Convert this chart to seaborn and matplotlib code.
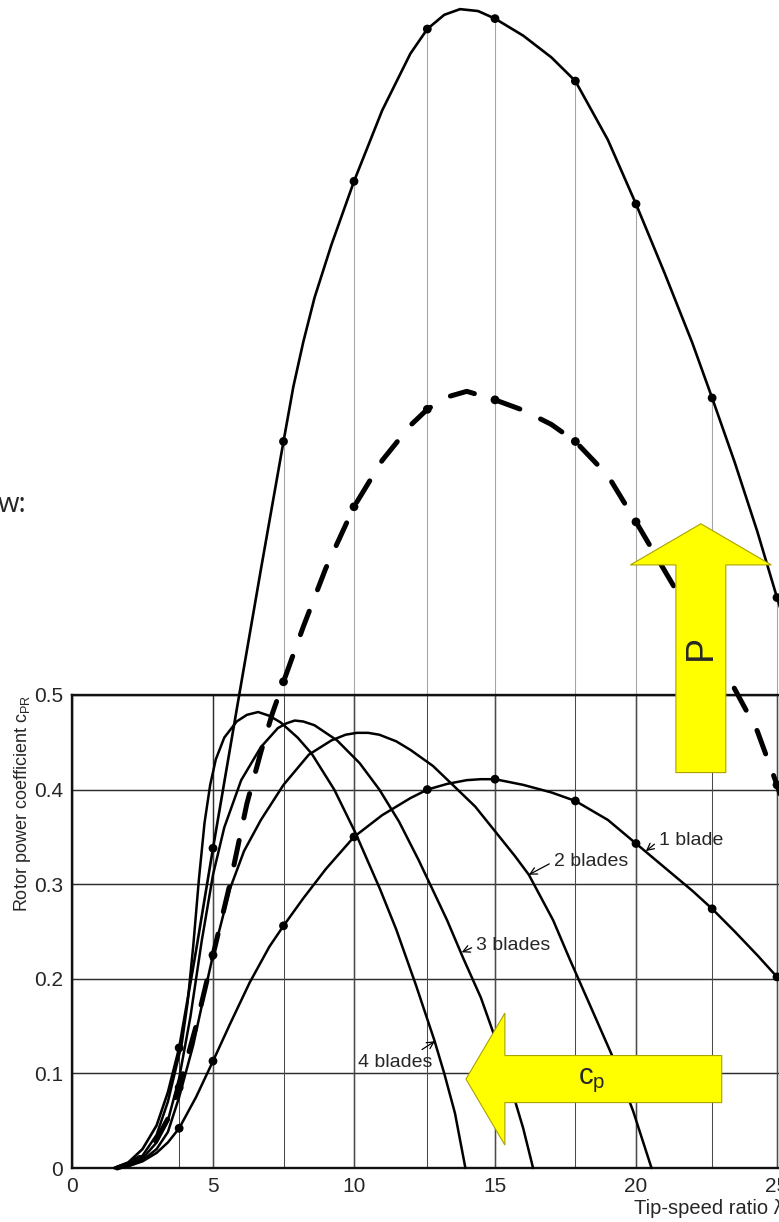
import matplotlib
matplotlib.use("Agg")
import matplotlib.pyplot as plt
from matplotlib import transforms
from matplotlib.font_manager import FontProperties
from matplotlib.patches import FancyArrow
import seaborn as sns

# ---- rotor power coefficient c_PR versus tip-speed ratio lambda ----
lam_1 = [1.5, 2.0, 2.5, 3.0, 3.4, 3.8, 4.4, 5.0, 5.6, 6.3, 7.0, 7.5, 8.2, 9.0, 10.0, 11.0,
         12.0, 12.6, 13.3, 14.0, 14.5, 15.0, 16.0, 17.0, 17.85, 19.0, 20.0, 21.0, 22.0,
         22.7, 23.5, 24.3, 25.0, 25.6]
cp_1 = [0.0, 0.002, 0.007, 0.016, 0.027, 0.042, 0.075, 0.113, 0.152, 0.196, 0.234, 0.256,
        0.285, 0.316, 0.350, 0.373, 0.391, 0.400, 0.406, 0.410, 0.411, 0.411, 0.405, 0.397,
        0.388, 0.368, 0.343, 0.318, 0.293, 0.274, 0.250, 0.225, 0.202, 0.182]

lam_2 = [1.7, 2.0, 2.5, 3.0, 3.4, 3.8, 4.3, 4.7, 5.0, 5.6, 6.1, 6.7, 7.5, 8.4, 9.2, 9.7,
         10.1, 10.5, 10.9, 11.5, 12.0, 12.8, 13.5, 14.3, 15.0, 15.7, 16.2, 17.06, 17.66,
         18.4, 19.18, 19.9, 20.55]
cp_2 = [0.0, 0.002, 0.008, 0.02, 0.038, 0.075, 0.13, 0.185, 0.225, 0.295, 0.335, 0.368,
        0.405, 0.437, 0.452, 0.458, 0.46, 0.46, 0.458, 0.451, 0.442, 0.425, 0.405, 0.382,
        0.356, 0.33, 0.31, 0.262, 0.22, 0.17, 0.117, 0.06, 0.0]

lam_3 = [1.6, 2.0, 2.5, 3.0, 3.4, 3.8, 4.2, 4.6, 5.0, 5.4, 6.0, 6.7, 7.3, 7.6, 7.9, 8.2,
         8.6, 9.4, 10.2, 10.9, 11.6, 12.3, 13.3, 13.87, 14.5, 15.0, 15.5, 16.0, 16.35]
cp_3 = [0.0, 0.003, 0.01, 0.027, 0.05, 0.095, 0.16, 0.24, 0.31, 0.36, 0.41, 0.445, 0.465,
        0.47, 0.473, 0.472, 0.468, 0.452, 0.428, 0.40, 0.366, 0.325, 0.262, 0.222, 0.18,
        0.138, 0.092, 0.042, 0.0]

lam_4 = [1.5, 2.0, 2.5, 3.0, 3.4, 3.89, 4.1, 4.3, 4.5, 4.7, 4.9, 5.1, 5.4, 5.84, 6.2, 6.6,
         7.0, 7.4, 8.0, 8.5, 9.3, 10.04, 10.92, 11.5, 12.2, 12.85, 13.2, 13.58, 13.95]
cp_4 = [0.0, 0.004, 0.013, 0.035, 0.07, 0.131, 0.175, 0.235, 0.305, 0.365, 0.405, 0.432,
        0.455, 0.472, 0.479, 0.482, 0.478, 0.471, 0.455, 0.438, 0.40, 0.355, 0.295, 0.252,
        0.193, 0.135, 0.10, 0.058, 0.0]

# ---- power curves P (solid and dashed), plotted on the same lambda scale ----
lam_p_solid = [1.5, 2.0, 2.5, 3.0, 3.4, 3.8, 4.4, 5.0, 5.9, 6.7, 7.5, 7.85, 8.2, 8.6, 9.2,
               10.0, 11.0, 12.0, 12.6, 13.2, 13.76, 14.4, 15.0, 16.0, 17.0, 17.85, 19.0,
               20.0, 21.0, 22.0, 22.7, 23.5, 24.3, 25.0, 25.6]
p_solid = [0.0, 0.006, 0.02, 0.045, 0.08, 0.127, 0.23, 0.338, 0.495, 0.633, 0.768, 0.826,
           0.873, 0.92, 0.976, 1.043, 1.118, 1.178, 1.204, 1.219, 1.225, 1.223, 1.215,
           1.197, 1.174, 1.149, 1.087, 1.019, 0.947, 0.872, 0.814, 0.746, 0.673, 0.603,
           0.545]

lam_p_dash = [1.6, 2.0, 2.5, 3.0, 3.4, 3.8, 4.4, 5.0, 5.6, 6.2, 6.7, 7.1, 7.5, 8.2, 9.0,
              10.0, 11.0, 12.0, 12.6, 13.3, 14.0, 15.0, 16.0, 17.0, 17.85, 19.0, 20.0,
              21.28, 22.2, 22.7, 23.2, 24.3, 25.0, 25.5]
p_dash = [0.0, 0.004, 0.013, 0.03, 0.052, 0.085, 0.15, 0.225, 0.300, 0.385, 0.44, 0.48,
          0.514, 0.572, 0.634, 0.699, 0.748, 0.785, 0.802, 0.815, 0.821, 0.812, 0.801,
          0.786, 0.768, 0.732, 0.683, 0.618, 0.572, 0.548, 0.523, 0.462, 0.405, 0.36]

# marked stations (dots) along the curves
lam_marks = [3.8, 5.0, 7.5, 10.0, 12.6, 15.0, 17.85, 20.0, 22.7, 25.0]
cp1_marks = [0.042, 0.113, 0.256, 0.350, 0.400, 0.411, 0.388, 0.343, 0.274, 0.202]
p_solid_marks = [0.127, 0.338, 0.768, 1.043, 1.204, 1.215, 1.149, 1.019, 0.814, 0.603]
p_dash_marks = [0.085, 0.225, 0.514, 0.699, 0.802, 0.812, 0.768, 0.683, 0.548, 0.405]

x_ticks = [0, 5, 10, 15, 20, 25]
x_tick_labels = ["0", "5", "10", "15", "20", "25"]
y_ticks = [0.0, 0.1, 0.2, 0.3, 0.4, 0.5]
y_tick_labels = ["0", "0.1", "0.2", "0.3", "0.4", "0.5"]

curve_labels = ["1 blade", "2 blades", "3 blades", "4 blades"]

# ---------------------------------------------------------------------------
sns.set_style("white")
plt.rcParams["font.family"] = ["Liberation Sans", "DejaVu Sans"]

W, H = 779, 1222
fig = plt.figure(figsize=(W / 100, H / 100), dpi=100)
ax = fig.add_axes([72 / W, 54 / H, 761.4 / W, 473 / H])
ax.set_xlim(0, 27)
ax.set_ylim(0, 0.5)

tick_font = FontProperties(family=["Liberation Sans", "DejaVu Sans"], size=15)
label_font = FontProperties(family=["Liberation Sans", "DejaVu Sans"], size=14)
xtitle_font = FontProperties(family=["Liberation Sans", "DejaVu Sans"], size=14.5)
ytitle_font = FontProperties(family=["Liberation Sans", "DejaVu Sans"], size=13)

# grid and frame
ax.set_xticks(x_ticks)
ax.set_xticklabels(x_tick_labels)
ax.set_yticks(y_ticks)
ax.set_yticklabels(y_tick_labels)
ax.grid(True, color="#2e2e2e", lw=1.05)
ax.set_axisbelow(True)
ax.tick_params(length=0, pad=6.5)
for lab in ax.get_xticklabels() + ax.get_yticklabels():
    lab.set_fontproperties(tick_font)
for side in ["left", "bottom", "top"]:
    ax.spines[side].set_linewidth(1.7)
    ax.spines[side].set_color("#111111")
ax.spines["right"].set_visible(False)

# station lines from the axis up to the solid power curve
for lam, top in zip(lam_marks, p_solid_marks):
    ax.plot([lam, lam], [0, min(top, 0.5)], color="#4a4a4a", lw=0.75, zorder=1)
    if top > 0.5:
        ax.plot([lam, lam], [0.5, top], color="#a6a6a6", lw=0.8, zorder=1, clip_on=False)

# power coefficient curves
for lam, cp in [(lam_1, cp_1), (lam_2, cp_2), (lam_3, cp_3), (lam_4, cp_4)]:
    sns.lineplot(x=lam, y=cp, ax=ax, color="black", lw=1.8, estimator=None,
                 zorder=3, clip_on=False)

# power curves
sns.lineplot(x=lam_p_solid, y=p_solid, ax=ax, color="black", lw=1.9, estimator=None,
             zorder=3, clip_on=False)
sns.lineplot(x=lam_p_dash, y=p_dash, ax=ax, color="black", lw=3.6, estimator=None,
             zorder=3, clip_on=False)
dash_line = ax.lines[-1]
dash_line.set_dashes([5.0, 4.6])
dash_line.set_dash_capstyle("round")

# dots at the stations
for vals in [cp1_marks, p_solid_marks, p_dash_marks]:
    sns.scatterplot(x=lam_marks, y=vals, ax=ax, color="black", s=40, edgecolor="none",
                    zorder=4, clip_on=False, legend=False)

ax.set_xlim(0, 27)
ax.set_ylim(0, 0.5)
ax.set_xlabel("")
ax.set_ylabel("")

# curve labels with leader arrows
arrow_kw = dict(arrowstyle="->,head_length=0.35,head_width=0.18", lw=0.9, color="black",
                shrinkA=1, shrinkB=0)
label_specs = [
    (curve_labels[0], (20.35, 0.335), (21.95, 0.346), (0.0, 0.5)),
    (curve_labels[1], (16.2, 0.310), (18.4, 0.324), (0.0, 0.5)),
    (curve_labels[2], (13.82, 0.228), (15.65, 0.235), (0.0, 0.5)),
    (curve_labels[3], (12.87, 0.134), (11.45, 0.112), (0.78, 1.0)),
]
for text, xy, xytext, rel in label_specs:
    ax.annotate(text, xy=xy, xytext=xytext, ha="center", va="center",
                fontproperties=label_font, zorder=5,
                arrowprops=dict(arrow_kw, relpos=rel))

# yellow highlight arrows
yellow = "#ffff00"
edge = "#a9a200"
p_arrow = FancyArrow(22.3, 0.418, 0, 0.263, width=1.77, head_width=5.0, head_length=0.0435,
                     length_includes_head=True, fc=yellow, ec=edge, lw=0.8,
                     zorder=6, clip_on=False)
ax.add_patch(p_arrow)
cp_arrow = FancyArrow(23.04, 0.094, -9.07, 0, width=0.0497, head_width=0.1395,
                      head_length=1.38, length_includes_head=True, fc=yellow, ec=edge,
                      lw=0.8, zorder=6, clip_on=False)
ax.add_patch(cp_arrow)

ax.text(22.3, 0.55, "P", rotation=90, ha="center", va="center", fontsize=27,
        family=["Liberation Sans", "DejaVu Sans"], zorder=7, clip_on=False)
ax.text(18.43, 0.092, r"c$_{\mathregular{p}}$", ha="center", va="center", fontsize=21,
        family=["Liberation Sans", "DejaVu Sans"], zorder=7)

# axis titles
ylab_tf = transforms.blended_transform_factory(fig.transFigure, ax.transData)
ax.text(23 / W, 0.5, r"Rotor power coefficient c$_{\mathregular{PR}}$", rotation=90,
        ha="center", va="top", fontproperties=ytitle_font, transform=ylab_tf)
fig.text(634 / W, (H - 1208) / H, "Tip-speed ratio λ", ha="left", va="center",
         fontproperties=xtitle_font)

# fragment of slide text at the left edge
fig.text(-2 / W, (H - 512) / H, "w:", ha="left", va="baseline", fontsize=20,
         family=["Open Sans", "DejaVu Sans"])

fig.savefig("out.png", dpi=100)
